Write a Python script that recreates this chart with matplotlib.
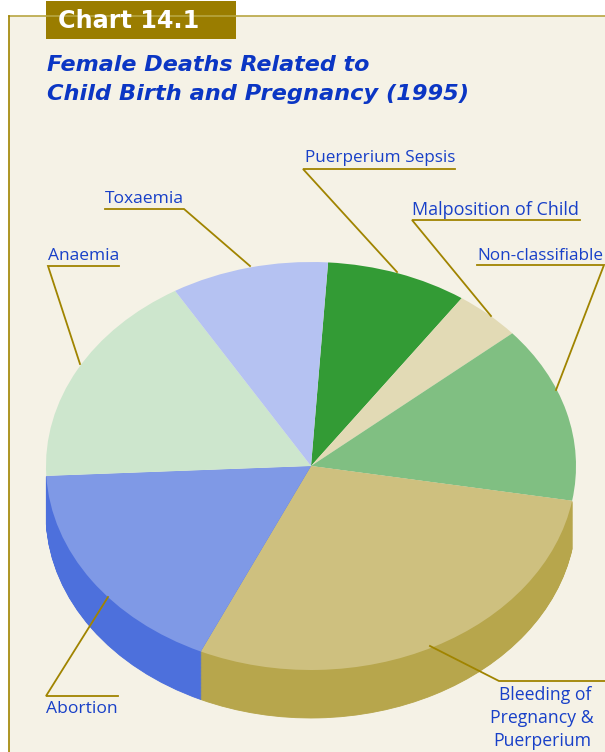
import matplotlib
matplotlib.use("Agg")
import matplotlib.pyplot as plt
from matplotlib.patches import Rectangle

categories = ["Puerperium Sepsis", "Malposition of Child", "Non-classifiable",
              "Bleeding of\nPregnancy &\nPuerperium", "Abortion", "Anaemia", "Toxaemia"]
values = [8.6, 4.1, 14.0, 29.1, 17.4, 17.2, 9.6]
top_colors = ["#339B35", "#E2DAB5", "#80BF82", "#CEC07F", "#7F99E6", "#CDE6CD", "#B5C2F2"]
side_colors = [None, None, None, "#B7A64C", "#4D70DC", None, None]
title_lines = "Female Deaths Related to\nChild Birth and Pregnancy (1995)"
badge = "Chart 14.1"

W, H = 605, 752
BG, GOLD, BLUE = "#F5F2E6", "#A08400", "#1840C8"
fig = plt.figure(figsize=(W / 100, H / 100), dpi=100, facecolor="white")

# page overlay in pixel coordinates
page = fig.add_axes([0, 0, 1, 1], zorder=1)
page.set_xlim(0, W); page.set_ylim(H, 0); page.axis("off")
page.add_patch(Rectangle((8.5, 16), W, H, fc=BG, ec="none"))
page.plot([8.5, W], [16, 16], color="#B8A642", lw=1.2)
page.plot([8.5, 8.5], [16, H], color=GOLD, lw=1.2)
page.add_patch(Rectangle((46, 1), 190, 38, fc="#9A7D00", ec="none"))
page.text(58, 21, badge, color="white", fontsize=17.2, fontweight="bold",
          family="DejaVu Sans", va="center", ha="left")
title_sizes = [16.0, 16.2]
for i, line in enumerate(title_lines.split("\n")):
    page.text(47, 65 + i * 29, line, color="#0B36C4", fontsize=title_sizes[i], fontweight="bold",
              style="italic", family="DejaVu Sans", va="center", ha="left")

# pie, squashed to an ellipse by its axes box
px0, px1, py0, py1 = 46, 576, 262, 670
ax = fig.add_axes([px0 / W, 1 - py1 / H, (px1 - px0) / W, (py1 - py0) / H], zorder=2)
ax.patch.set_alpha(0)
depth = 48 / ((py1 - py0) / 2)
steps = 60
for k in range(steps, 0, -1):
    wedges, _ = ax.pie(values, startangle=86.3, counterclock=False, radius=1,
                       center=(0, -depth * k / steps),
                       colors=[c if c else "none" for c in side_colors])
    for w, c in zip(wedges, side_colors):
        w.set_edgecolor(c if c else "none")
        w.set_linewidth(0.6 if c else 0)
        w.set_clip_on(False)
wedges, _ = ax.pie(values, startangle=86.3, counterclock=False, radius=1, colors=top_colors)
for w in wedges:
    w.set_clip_on(False)
ax.set_aspect("auto")
ax.set_xlim(-1, 1); ax.set_ylim(-1, 1)

# leaders and labels, drawn above the pie
over = fig.add_axes([0, 0, 1, 1], zorder=3)
over.set_xlim(0, W); over.set_ylim(H, 0); over.axis("off")
leaders = [
    ([455, 303, 397], [169, 169, 272], GOLD),
    ([580, 412, 491], [220, 220, 316], GOLD),
    ([477, 604, 556], [265, 265, 390], GOLD),
    ([105, 184, 250], [209, 209, 266], GOLD),
    ([119, 48, 80], [266, 266, 364], GOLD),
    ([118, 46, 108], [696, 696, 597], GOLD),
    ([605, 499, 430], [681, 681, 646], GOLD),
]
for xs, ys, c in leaders:
    over.plot(xs, ys, color=c, lw=1.3, solid_joinstyle="miter", clip_on=False)

label_pos = [(305, 158, 12.3), (412, 210, 13.0), (477, 256, 12.3),
             (105, 199, 12.6), (48, 256, 12.5), (46, 709, 12.6)]
label_names = [categories[0], categories[1], categories[2], categories[6], categories[5], categories[4]]
for (x, y, fs), name in zip(label_pos, label_names):
    over.text(x, y, name, color=BLUE, fontsize=fs, family="Open Sans", va="center", ha="left")
bleeding_x = [545, 542, 542]
for i, line in enumerate(categories[3].split("\n")):
    over.text(bleeding_x[i], 695 + i * 23, line, color=BLUE, fontsize=12.7, family="Open Sans",
              va="center", ha="center")

fig.savefig("out.png", dpi=100, facecolor="white")
